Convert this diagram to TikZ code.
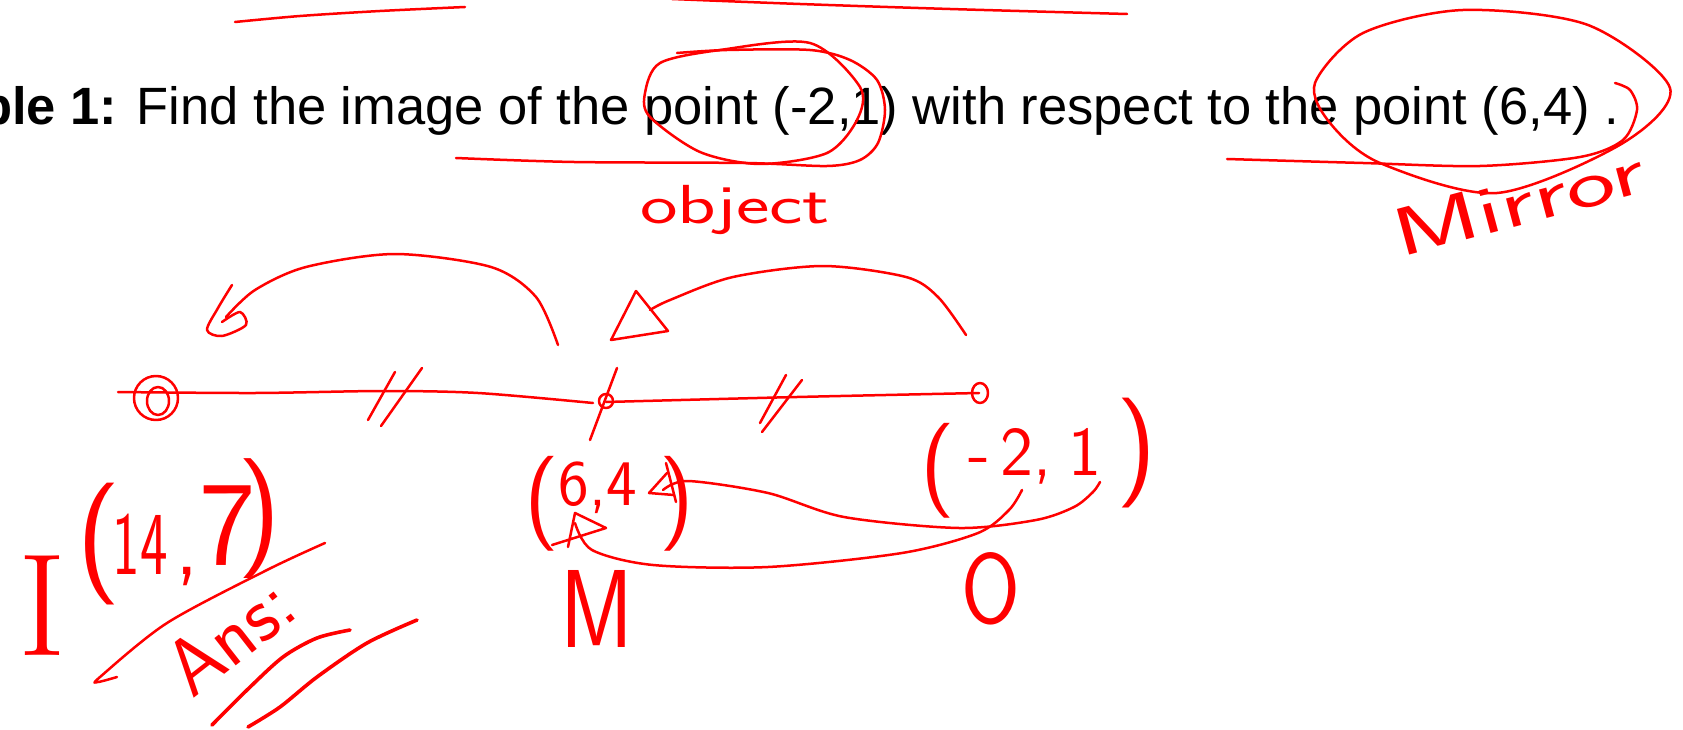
\documentclass[tikz,border=0pt]{standalone}
\usepackage{fontspec}
\usepackage{graphicx}
\newfontfamily\arialfont{Liberation Sans}
\newcommand{\fs}[1]{\fontsize{#1}{#1}\selectfont}
\begin{document}
\begin{tikzpicture}[x=1pt, y=-1pt,
  ink/.style={red, line width=2.5pt, line cap=round, line join=round},
  thickink/.style={ink, line width=3.6pt},
  hand/.style={text=red, inner sep=0pt, anchor=base west, font=\sffamily}]
\useasboundingbox (0,0) rectangle (1683,730);

% printed question
\node[anchor=base west, inner sep=0pt, font=\arialfont\fs{52.5}] (title) at (-20,124.5)
  {\textbf{ble 1:} Find the image of the point (-2,1) with respect to the point (6,4) .};

% strokes over the title
\draw[ink] plot[smooth] coordinates {(235,22) (300,16) (380,11) (465,7)};
\draw[ink] plot[smooth] coordinates {(672,-1) (800,4) (950,9) (1127,14)};
\draw[ink] plot[smooth cycle] coordinates {(645,93) (660,63) (720,50) (810,43) (860,87) (857,120) (827,153) (760,164) (700,152) (650,117)};
\draw[ink] plot[smooth] coordinates {(456,158) (574,162) (746,163) (827,166) (860,160) (878,143) (885,110) (877,80) (850,60) (810,50) (727,50) (677,53)};
\node[hand, xscale=1.45, font=\sffamily\fs{55}] (obj) at (640,223) {object};

\draw[ink] plot[smooth cycle] coordinates {(1315,83) (1363,33) (1463,10) (1588,25) (1670,88) (1623,143) (1497,193) (1380,163) (1330,123)};
\draw[ink] plot[smooth] coordinates {(1227,159) (1363,163) (1480,166) (1580,157) (1623,140) (1637,110) (1630,90) (1615,83)};
\node[hand, rotate=15, xscale=1.55, font=\sffamily\fs{68}] (mirror) at (1400,258) {Mirror};

% arcs with heads
\draw[ink] plot[smooth] coordinates {(558,345) (536,297) (491,267) (395,254) (306,267) (255,290) (226,317)};
\draw[ink] plot[smooth] coordinates {(232,285) (218,308) (207,330) (222,336) (246,325) (240,312) (222,322)};
\draw[ink] plot[smooth] coordinates {(966,335) (938,297) (906,277) (823,266) (733,277) (670,300) (650,310)};
\draw[ink] (636,291) -- (611,340) -- (668,331) -- cycle;

% the segment
\draw[ink] plot[smooth] coordinates {(118,392) (255,393) (383,391) (478,393) (593,403)};
\draw[ink] plot[smooth] coordinates {(606,402) (797,397) (979,393)};
\draw[ink] (156,398) ellipse [x radius=22, y radius=22];
\draw[ink] (158,401) ellipse [x radius=11, y radius=14];
\draw[ink] (606,401) circle [radius=7];
\draw[ink] (617,368) -- (590,440);
\draw[ink] (980,393) ellipse [x radius=8, y radius=10];
\draw[ink] (395,372) -- (368,420);
\draw[ink] (422,368) -- (381,426);
\draw[ink] (786,375) -- (760,423);
\draw[ink] (802,380) -- (762,432);

% M (6,4)
\node[hand] (mpt) at (524,527)
  {\fs{95}(\raisebox{22pt}{\fs{65}6,4}\hspace{22pt})};
\draw[ink] (568,547) -- (575,513) -- (606,528) -- (552,545);
\draw[ink] (666,463) -- (676,502);
\draw[ink] (667,473) -- (649,493) -- (674,495);
\draw[ink] plot[smooth] coordinates {(663,490) (688,481) (768,493) (844,517) (959,528) (1036,520) (1074,507) (1093,492) (1100,482)};
\draw[ink] plot[smooth] coordinates {(575,523) (592,550) (653,565) (768,567) (902,553) (978,533) (1009,510) (1022,490)};
\node[hand, xscale=0.8, font=\sffamily\fs{111}] (mlab) at (560,647) {M};

% O (-2,1)
\node[hand] (opt) at (920,494)
  {\fs{95}(\raisebox{19pt}{\fs{70}\hspace{14pt}-\hspace{10pt}2,\hspace{16pt}1}\hspace{16pt}\raisebox{14pt}{\fs{110})}};
\node[hand, xscale=0.85, font=\sffamily\fs{100}] (olab) at (961,623) {O};

% I (14,7)
\node[hand, font=\rmfamily\fs{146}] (ilab) at (18,655) {I};
\node[hand] (ipt) at (76,574.5)
  {\fs{122}(\hspace{-8pt}\scalebox{0.65}[1]{\fs{90}14}\hspace{8pt}{\fs{90},}\raisebox{10pt}{\fs{120}7}\hspace{-18pt}\raisebox{26pt}{\fs{120})}};
\draw[ink] plot[smooth] coordinates {(325,543) (267,570) (167,623) (100,677) (98,682) (117,677)};
\node[hand, rotate=38, font=\sffamily\fs{80}] (ans) at (192,700) {Ans:};
\draw[thickink] plot[smooth] coordinates {(350,630) (317,638) (283,657) (247,690) (212,725)};
\draw[thickink] plot[smooth] coordinates {(417,620) (367,643) (317,677) (280,707) (248,727)};
\end{tikzpicture}
\end{document}
